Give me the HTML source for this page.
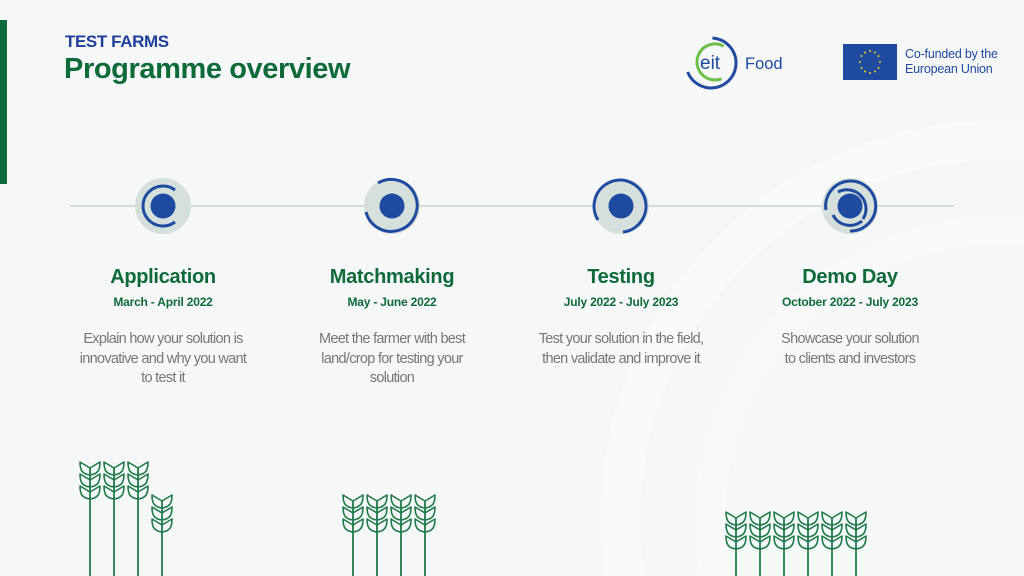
<!DOCTYPE html>
<html><head><meta charset="utf-8"><style>
html,body{margin:0;padding:0;overflow:hidden}
body{width:1024px;height:576px;overflow:hidden;background:#f6f7f7;position:relative;font-family:"Liberation Sans",sans-serif}
.t{position:absolute;text-align:center;width:220px}
.h{font-size:20px;font-weight:bold;color:#0f6a3b;letter-spacing:-0.3px}
.d{font-size:12px;font-weight:bold;color:#0f6a3b;letter-spacing:-0.2px}
.p{font-size:14.5px;color:#777;line-height:19.5px;letter-spacing:-0.7px}
</style></head><body>
<svg width="1024" height="576" style="position:absolute;left:0;top:0">
<defs>
<g id="lp"><path d="M0,13 C-8,12 -10,8 -10,0 L0,6 L10,0 C10,8 8,12 0,13 Z" fill="none" stroke="#1e7a4a" stroke-width="1.6" stroke-linejoin="round"/></g>
<g id="h3"><use href="#lp" y="0"/><use href="#lp" y="12"/><use href="#lp" y="24"/></g>
</defs>
<circle cx="1000" cy="520" r="380" fill="none" stroke="#ffffff" stroke-width="40" opacity="0.35"/>
<circle cx="1000" cy="520" r="290" fill="none" stroke="#ffffff" stroke-width="30" opacity="0.3"/>
<rect x="0" y="20" width="7" height="164" fill="#0d6b3a"/>
<line x1="70" y1="206" x2="954" y2="206" stroke="#d3dedb" stroke-width="2"/>
<circle cx="163" cy="206" r="28" fill="#d5e0dc"/>
<path d="M175,190 A20,20 0 1 0 175,222" fill="none" stroke="#1e4aa0" stroke-width="3"/>
<circle cx="163" cy="206" r="12.5" fill="#1e4aa0"/>
<circle cx="392" cy="206" r="28" fill="#d5e0dc"/>
<path d="M378,183 A26,26 0 1 1 366,212" fill="none" stroke="#1e4aa0" stroke-width="3"/>
<circle cx="392" cy="206" r="12.5" fill="#1e4aa0"/>
<circle cx="621" cy="206" r="28" fill="#d5e0dc"/>
<path d="M598,220 A26,26 0 1 1 623,232" fill="none" stroke="#1e4aa0" stroke-width="3"/>
<circle cx="621" cy="206" r="12.5" fill="#1e4aa0"/>
<circle cx="850" cy="206" r="28" fill="#d5e0dc"/>
<path d="M826,210 A25,25 0 1 1 850,231" fill="none" stroke="#1e4aa0" stroke-width="3"/>
<path d="M838,192 A19,19 0 0 1 863,219" fill="none" stroke="#1e4aa0" stroke-width="3"/>
<path d="M833,215 A19,19 0 0 0 862,221" fill="none" stroke="#1e4aa0" stroke-width="3"/>
<circle cx="850" cy="206" r="12.5" fill="#1e4aa0"/>
<g stroke="#1e7a4a" stroke-width="1.8">
<line x1="90" y1="468" x2="90" y2="576"/><line x1="114" y1="468" x2="114" y2="576"/><line x1="138" y1="468" x2="138" y2="576"/><line x1="162" y1="501" x2="162" y2="576"/>
<line x1="353" y1="501" x2="353" y2="576"/><line x1="377" y1="501" x2="377" y2="576"/><line x1="401" y1="501" x2="401" y2="576"/><line x1="425" y1="501" x2="425" y2="576"/>
<line x1="736" y1="518" x2="736" y2="576"/><line x1="760" y1="518" x2="760" y2="576"/><line x1="784" y1="518" x2="784" y2="576"/><line x1="808" y1="518" x2="808" y2="576"/><line x1="832" y1="518" x2="832" y2="576"/><line x1="856" y1="518" x2="856" y2="576"/>
</g>
<use href="#h3" x="90" y="462"/><use href="#h3" x="114" y="462"/><use href="#h3" x="138" y="462"/><use href="#h3" x="162" y="495"/>
<use href="#h3" x="353" y="495"/><use href="#h3" x="377" y="495"/><use href="#h3" x="401" y="495"/><use href="#h3" x="425" y="495"/>
<use href="#h3" x="736" y="512"/><use href="#h3" x="760" y="512"/><use href="#h3" x="784" y="512"/><use href="#h3" x="808" y="512"/><use href="#h3" x="832" y="512"/><use href="#h3" x="856" y="512"/>
<circle cx="711" cy="63" r="25" fill="none" stroke="#1e4aa0" stroke-width="3" pathLength="360" stroke-dasharray="245 115" transform="rotate(-85 711 63)"/>
<circle cx="715" cy="62" r="18" fill="none" stroke="#6cc04a" stroke-width="3" pathLength="360" stroke-dasharray="230 130" transform="rotate(70 715 62)"/>
<text x="700" y="69" font-size="19" fill="#1e4aa0" font-family="Liberation Sans">eit</text>
<text x="745" y="69" font-size="16.5" fill="#1e4aa0" font-family="Liberation Sans">Food</text>
<rect x="843" y="44" width="54" height="36" fill="#1e4aa0"/>
<g fill="#f5d20a">
<circle cx="870" cy="51" r="1"/><circle cx="875" cy="52.5" r="1"/><circle cx="878.5" cy="56" r="1"/><circle cx="880" cy="62" r="1"/><circle cx="878.5" cy="68" r="1"/><circle cx="875" cy="71.5" r="1"/><circle cx="870" cy="73" r="1"/><circle cx="865" cy="71.5" r="1"/><circle cx="861.5" cy="68" r="1"/><circle cx="860" cy="62" r="1"/><circle cx="861.5" cy="56" r="1"/><circle cx="865" cy="52.5" r="1"/>
</g>
</svg>
<div style="position:absolute;left:905px;top:47px;font-size:12.5px;color:#1e4aa0;line-height:15px;letter-spacing:-0.2px">Co-funded by the<br>European Union</div>
<div style="position:absolute;left:65px;top:32px;font-size:17px;font-weight:bold;color:#1e3f9a;letter-spacing:-0.4px">TEST FARMS</div>
<div style="position:absolute;left:64px;top:53px;font-size:29px;font-weight:bold;color:#0d6b3a;letter-spacing:-0.4px">Programme overview</div>

<div class="t h" style="left:53px;top:266px">Application</div>
<div class="t d" style="left:53px;top:295px">March - April 2022</div>
<div class="t p" style="left:53px;top:330px">Explain how your solution is<br>innovative and why you want<br>to test it</div>

<div class="t h" style="left:282px;top:266px">Matchmaking</div>
<div class="t d" style="left:282px;top:295px">May - June 2022</div>
<div class="t p" style="left:282px;top:330px">Meet the farmer with best<br>land/crop for testing your<br>solution</div>

<div class="t h" style="left:511px;top:266px">Testing</div>
<div class="t d" style="left:511px;top:295px">July 2022 - July 2023</div>
<div class="t p" style="left:501px;top:330px;width:240px">Test your solution in the field,<br>then validate and improve it</div>

<div class="t h" style="left:740px;top:266px">Demo Day</div>
<div class="t d" style="left:730px;top:295px;width:240px">October 2022 - July 2023</div>
<div class="t p" style="left:740px;top:330px">Showcase your solution<br>to clients and investors</div>
</body></html>
